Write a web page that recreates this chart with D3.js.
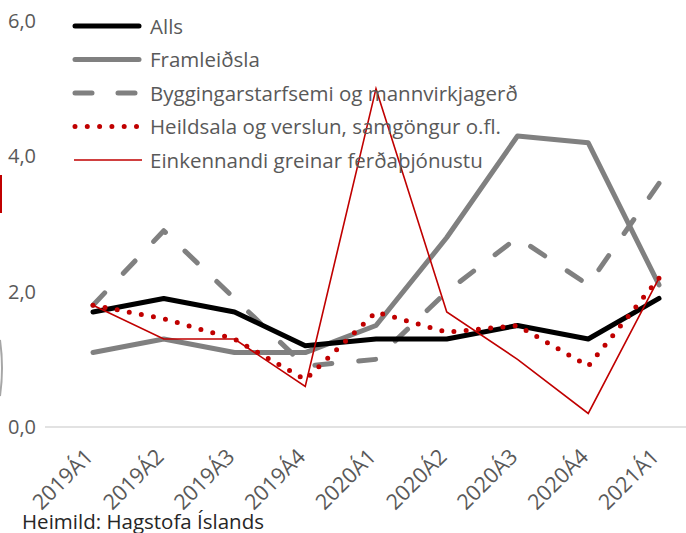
<html>
<head>
<meta charset="utf-8">
<title>Vöxtur eftir greinum</title>
<script src="https://cdn.jsdelivr.net/npm/d3@7"></script>
<style>
    body { margin: 0; background: #fff; }
    svg text { font-family: "Open Sans", "Noto Sans", sans-serif; }
    .axis text { fill: #595959; font-size: 20px; }
    .axis.x text { font-size: 21.5px; }
    .legend text { fill: #595959; font-size: 20.5px; }
</style>
</head>
<body>
<script>
    var w = 686;
    var h = 533;

    // data
    var quarters = ["2019Á1", "2019Á2", "2019Á3", "2019Á4", "2020Á1", "2020Á2", "2020Á3", "2020Á4", "2021Á1"];
    var yTicks = [0, 2, 4, 6];
    var seriesNames = ["Alls", "Framleiðsla", "Byggingarstarfsemi og mannvirkjagerð",
        "Heildsala og verslun, samgöngur o.fl.", "Einkennandi greinar ferðaþjónustu"];
    var alls = [1.7, 1.9, 1.7, 1.2, 1.3, 1.3, 1.5, 1.3, 1.9];
    var framleidsla = [1.1, 1.3, 1.1, 1.1, 1.5, 2.8, 4.3, 4.2, 2.1];
    var byggingar = [1.8, 2.9, 1.9, 0.9, 1.0, 2.0, 2.8, 2.1, 3.6];
    var heildsala = [1.8, 1.6, 1.3, 0.7, 1.7, 1.4, 1.5, 0.9, 2.2];
    var ferdathj = [1.8, 1.3, 1.3, 0.6, 5.0, 1.7, 1.0, 0.2, 2.2];
    var source = "Heimild: Hagstofa Íslands";

    var values = [alls, framleidsla, byggingar, heildsala, ferdathj];

    // line styles, one per series
    var styles = [
        { stroke: "#000000", width: 5, dash: null },
        { stroke: "#808080", width: 5, dash: null },
        { stroke: "#808080", width: 5, dash: "17,26" },
        { stroke: "#c00000", width: 5, dash: "0,12.3" },
        { stroke: "#c00000", width: 1.6, dash: null }
    ];

    var svg = d3.select("body").append("svg")
        .attr("width", w)
        .attr("height", h);

    var xScale = d3.scalePoint()
        .domain(quarters)
        .range([93, 659]);

    var yScale = d3.scaleLinear()
        .domain([0, 6])
        .range([427, 21]);

    // pieces of neighbouring content cut off at the left edge
    svg.append("rect").attr("x", 0).attr("y", 175).attr("width", 2).attr("height", 38).attr("fill", "#c00000");
    svg.append("path").attr("d", "M0,340 Q4,368 0,396").attr("fill", "none").attr("stroke", "#a6a6a6").attr("stroke-width", 2);

    // baseline
    svg.append("line")
        .attr("x1", 45).attr("x2", w)
        .attr("y1", yScale(0)).attr("y2", yScale(0))
        .attr("stroke", "#d9d9d9")
        .attr("stroke-width", 1.5);

    // y axis labels
    var yAxis = d3.axisLeft(yScale)
        .tickValues(yTicks)
        .tickSize(0)
        .tickPadding(0)
        .tickFormat(function(d) { return d3.format(".1f")(d).replace(".", ","); });
    var gy = svg.append("g")
        .attr("class", "axis")
        .attr("transform", "translate(36,0)")
        .call(yAxis);
    gy.select(".domain").remove();

    // x axis labels, rotated
    var xAxis = d3.axisBottom(xScale).tickSize(0).tickPadding(0);
    var gx = svg.append("g")
        .attr("class", "axis x")
        .attr("transform", "translate(0," + yScale(0) + ")")
        .call(xAxis);
    gx.select(".domain").remove();
    gx.selectAll("text")
        .attr("text-anchor", "end")
        .attr("dy", null)
        .attr("y", 0)
        .attr("transform", "translate(1,31) rotate(-45)");

    var line = d3.line()
        .x(function(d, i) { return xScale(quarters[i]); })
        .y(function(d) { return yScale(d); });

    // draw from back to front: thin red on top of grey
    var order = [1, 2, 0, 3, 4];
    order.forEach(function(k) {
        var p = svg.append("path")
            .datum(values[k])
            .attr("d", line)
            .attr("fill", "none")
            .attr("stroke", styles[k].stroke)
            .attr("stroke-width", styles[k].width)
            .attr("stroke-dasharray", styles[k].dash)
            .attr("stroke-linecap", k == 4 ? "butt" : "round")
            .attr("stroke-linejoin", k == 4 ? "miter" : "round");
        if (k == 2) {
            // stretch the dash gap a little so the line ends on a dash
            var len = p.node().getTotalLength();
            var n = Math.round((len - 17) / 43);
            p.attr("stroke-dasharray", "17," + ((len - 17) / n - 17));
        }
    });

    // legend
    var legend = svg.append("g").attr("class", "legend");
    seriesNames.forEach(function(name, i) {
        var y = 26 + i * 33.5;
        legend.append("line")
            .attr("x1", i == 4 ? 74 : 75).attr("x2", i == 4 ? 142 : 139)
            .attr("y1", y).attr("y2", y)
            .attr("stroke", styles[i].stroke)
            .attr("stroke-width", styles[i].width)
            .attr("stroke-dasharray", styles[i].dash)
            .attr("stroke-linecap", i == 4 ? "butt" : "round");
        legend.append("text")
            .attr("x", 150)
            .attr("y", y + 7.5)
            .text(name);
    });

    svg.append("text")
        .attr("x", 22)
        .attr("y", 529)
        .attr("fill", "#262626")
        .attr("font-size", "20.5px")
        .text(source);
</script>
</body>
</html>
